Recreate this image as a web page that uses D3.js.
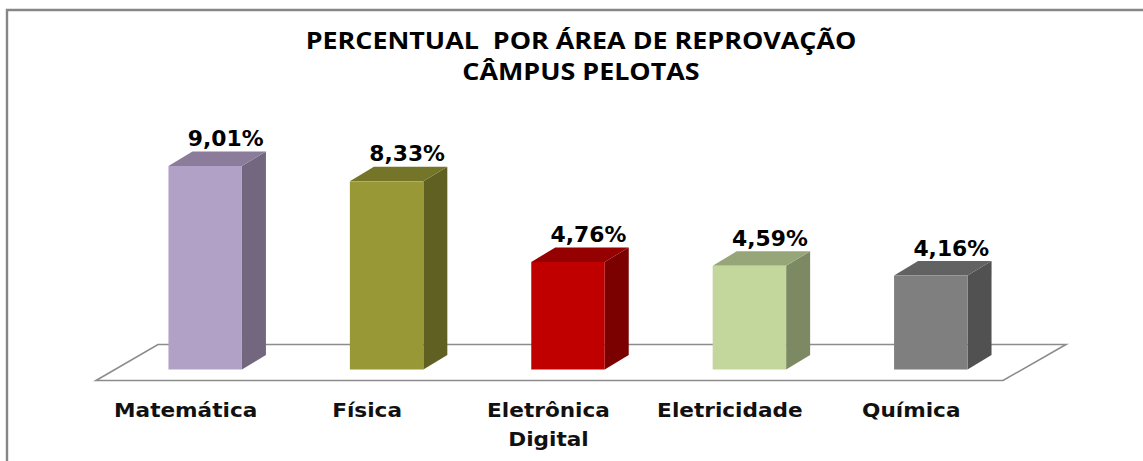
<!DOCTYPE html>
<html><head><meta charset="utf-8">
<script src="https://cdn.jsdelivr.net/npm/d3@7"></script>
<style>html,body{margin:0;padding:0;background:#fff}svg{display:block}</style></head>
<body><div id="c"></div>
<script>
const categories=[["Matemática"],["Física"],["Eletrônica","Digital"],["Eletricidade"],["Química"]];
const values=[9.01,8.33,4.76,4.59,4.16];
const valueLabels=["9,01%","8,33%","4,76%","4,59%","4,16%"];
const frontColors=["#b2a1c7","#989836","#c00000","#c3d69b","#7f7f7f"];
const sideColors=["#72677f","#606022","#7b0000","#7d8963","#515151"];
const topColors=["#8a7c9a","#757529","#950000","#97a678","#626262"];
const titleLines=["PERCENTUAL  POR ÁREA DE REPROVAÇÃO","CÂMPUS PELOTAS"];

const W=1143,H=461,baseY=369.5,depthX=24,depthY=14.5;
const svg=d3.select("#c").append("svg").attr("width",W).attr("height",H);
svg.append("path").attr("d",`M7,${H}V10H${W}`).attr("fill","none").attr("stroke","#868686").attr("stroke-width",2.4);

function stretch(sel,k){sel.each(function(){
  const n=this.getComputedTextLength();
  d3.select(this).attr("textLength",n*k).attr("lengthAdjust","spacingAndGlyphs");
});}

const idx=categories.map((d,i)=>i);
const x=d3.scaleBand().domain(idx).range([114.5,1021.5]).paddingInner(0.595).paddingOuter(0.2975);
const y=d3.scaleLinear().domain([0,9.01]).range([baseY,166]);

svg.append("path").attr("d","M96,380.5L158,344.5H1066L1003,380.5Z")
  .attr("fill","#fff").attr("stroke","#8c8c8c").attr("stroke-width",1.6);

const g=svg.selectAll("g.bar").data(values).join("g").attr("class","bar");
g.append("polygon").attr("fill",(d,i)=>sideColors[i]).attr("points",(d,i)=>{
  const r=x(i)+x.bandwidth(),t=y(d);
  return [[r,t],[r+depthX,t-depthY],[r+depthX,baseY-depthY],[r,baseY]].join(" ");});
g.append("polygon").attr("fill",(d,i)=>topColors[i]).attr("points",(d,i)=>{
  const l=x(i),r=l+x.bandwidth(),t=y(d);
  return [[l,t],[l+depthX,t-depthY],[r+depthX,t-depthY],[r,t]].join(" ");});
g.append("rect").attr("fill",(d,i)=>frontColors[i]).attr("x",(d,i)=>x(i)).attr("width",x.bandwidth())
  .attr("y",d=>y(d)).attr("height",d=>baseY-y(d));
g.append("text").text((d,i)=>valueLabels[i]).attr("text-anchor","middle")
  .attr("x",(d,i)=>x(i)+x.bandwidth()/2+20.5).attr("y",d=>y(d)-20)
  .attr("font-family","DejaVu Sans").attr("font-weight","bold").attr("font-size",20.5).attr("fill","#000")
  .call(stretch,1.065);

svg.selectAll("text.cat").data(categories).join("text").attr("class","cat")
  .attr("text-anchor","middle").attr("font-family","DejaVu Sans").attr("font-weight","bold")
  .attr("font-size",20).attr("fill","#111")
  .each(function(d,i){
    d3.select(this).selectAll("tspan").data(d).join("tspan")
      .attr("x",x(i)+x.bandwidth()/2-19.5).attr("y",(t,j)=>416.5+j*29.5).text(t=>t)
      .call(stretch,1.08);
  });

svg.selectAll("text.title").data(titleLines).join("text").attr("class","title")
  .attr("text-anchor","middle").attr("x",581).attr("y",(d,i)=>49+i*31)
  .attr("font-family","Open Sans").attr("font-weight","bold").attr("font-size",23)
  .attr("fill","#000").style("white-space","pre").text(d=>d)
  .call(stretch,1.168);
</script></body></html>
